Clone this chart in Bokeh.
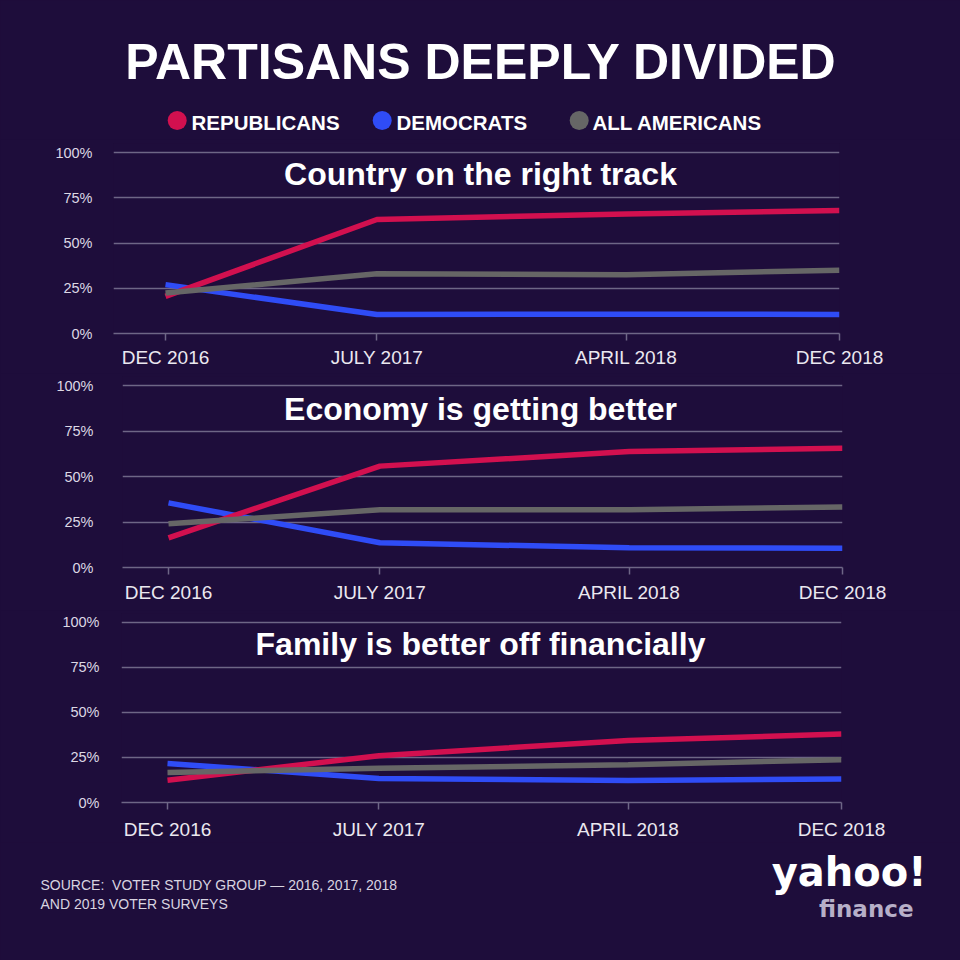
import pandas as pd
from bokeh.plotting import figure
from bokeh.layouts import column
from bokeh.models import (Label, FixedTicker, Range1d, ColumnDataSource,
                          PrintfTickFormatter, CustomJSTickFormatter)
from bokeh.embed import file_html
from bokeh.resources import INLINE

# ---------------- data ----------------
survey_labels = ["DEC 2016", "JULY 2017", "APRIL 2018", "DEC 2018"]
survey_dates = ["2016-12-01", "2017-07-18", "2018-04-14", "2018-12-01"]

series_names = ["REPUBLICANS", "DEMOCRATS", "ALL AMERICANS"]

panel_titles = ["Country on the right track",
                "Economy is getting better",
                "Family is better off financially"]

right_track_rep = [20.5, 63.0, 66.0, 68.0]
right_track_dem = [27.0, 10.5, 10.7, 10.5]
right_track_all = [22.4, 33.0, 32.5, 35.0]

economy_rep = [16.3, 55.7, 63.7, 65.5]
economy_dem = [35.5, 13.6, 10.8, 10.6]
economy_all = [24.0, 31.7, 31.7, 33.3]

family_rep = [12.3, 26.0, 34.4, 38.0]
family_dem = [21.7, 13.3, 12.2, 13.1]
family_all = [16.7, 19.0, 21.0, 23.8]

y_ticks = [0, 25, 50, 75, 100]

source_lines = ["SOURCE:\u00a0\u00a0VOTER STUDY GROUP \u2014 2016, 2017, 2018",
                "AND 2019 VOTER SURVEYS"]

# ---------------- style ----------------
BG = "#1e0d3b"
RED = "#d2104f"
BLUE = "#2f4cf6"
GRAY = "#666666"
GRID = "#6e6686"
TXT = "#ebe8f0"
W = 960
BASE = 0.38  # baseline correction factor (fraction of font size)

x_ms = [float(v) for v in (pd.to_datetime(survey_dates).astype("int64") // 10**6)]

# (fig_top_border, frame_h, bottom_border, frame_left, frame_right,
#  first_tick_x, px_per_pct, y_label_standoff, x_label_standoff, title_baseline_above_zero)
panel_cfg = [
    (4, 190, 40, 113, 839, 165, 1.81, 21, 6, 147),
    (3, 191, 43, 122, 842, 168, 1.82, 29, 7, 146),
    (3, 190, 39, 121, 841, 167, 1.81, 22, 9, 146),
]

panel_data = [
    (right_track_rep, right_track_dem, right_track_all),
    (economy_rep, economy_dem, economy_all),
    (family_rep, family_dem, family_all),
]


def base_fig(height, **kw):
    return figure(width=W, height=height, output_backend="svg",
                  toolbar_location=None, frame_align=False,
                  background_fill_color=BG, border_fill_color=BG,
                  outline_line_color=None,
                  styles={"background-color": BG}, **kw)


def make_panel(title, vals, cfg):
    top, fh, bottom, lx, rx, t0x, ppp, ystand, xstand, tb = cfg
    span_px = rx - t0x
    span = x_ms[-1] - x_ms[0]
    x_start = x_ms[0] - (t0x - lx) / span_px * span
    p = base_fig(top + fh + bottom,
                 x_range=Range1d(x_start, x_ms[-1]),
                 y_range=Range1d(0, fh / ppp),
                 min_border_left=lx, min_border_right=W - rx,
                 min_border_top=top, min_border_bottom=bottom)
    rep, dem, allv = vals
    src = ColumnDataSource(dict(x=x_ms, rep=rep, dem=dem, allv=allv))
    p.line("x", "dem", source=src, line_color=BLUE, line_width=5.5)
    p.line("x", "rep", source=src, line_color=RED, line_width=5.5)
    p.line("x", "allv", source=src, line_color=GRAY, line_width=5.5)

    p.xgrid.visible = False
    p.ygrid.ticker = FixedTicker(ticks=y_ticks)
    p.ygrid.grid_line_color = GRID
    p.ygrid.grid_line_width = 1.5

    ya = p.yaxis[0]
    ya.ticker = FixedTicker(ticks=y_ticks)
    ya.formatter = PrintfTickFormatter(format="%d%%")
    ya.axis_line_color = None
    ya.major_tick_line_color = None
    ya.minor_tick_line_color = None
    ya.major_tick_out = 0
    ya.major_tick_in = 0
    ya.major_label_standoff = ystand
    ya.major_label_text_font = "Liberation Sans"
    ya.major_label_text_font_size = "14.5px"
    ya.major_label_text_color = "#dcd8e4"

    xa = p.xaxis[0]
    xa.ticker = FixedTicker(ticks=x_ms)
    xa.formatter = CustomJSTickFormatter(
        args=dict(tvals=x_ms, tlabels=survey_labels),
        code="""
        let best = -1, bd = Infinity;
        for (let i = 0; i < tvals.length; i++) {
          const d = Math.abs(tvals[i] - tick);
          if (d < bd) { bd = d; best = i; }
        }
        return bd < 1e6 ? tlabels[best] : '';
        """)
    xa.axis_line_color = GRID
    xa.axis_line_width = 1.5
    xa.major_tick_line_color = GRID
    xa.major_tick_line_width = 1.5
    xa.minor_tick_line_color = None
    xa.major_tick_out = 7
    xa.major_tick_in = 0
    xa.major_label_standoff = xstand
    xa.major_label_text_font = "Liberation Sans"
    xa.major_label_text_font_size = "19px"
    xa.major_label_text_color = TXT

    p.add_layout(Label(x=480 - lx, y=tb + BASE * 32, x_units="screen",
                       y_units="screen", text=title, text_align="center",
                       text_baseline="alphabetic",
                       text_font="Liberation Sans", text_font_style="bold",
                       text_font_size="32px", text_color="white"))
    return p


# ---------------- header ----------------
HH = 139
header = base_fig(HH, x_range=Range1d(0, W), y_range=Range1d(0, HH), min_border=0,
                  x_axis_location=None, y_axis_location=None)
header.grid.visible = False
header.add_layout(Label(x=480.5, y=(HH - 80) + BASE * 50,
                        text="PARTISANS DEEPLY DIVIDED",
                        text_align="center", text_baseline="alphabetic",
                        text_font="Liberation Sans", text_font_style="bold",
                        text_font_size="50px", text_color="white"))
legend_dot_x = [176.7, 381.7, 578.7]
legend_txt_x = [191, 396, 592]
header.scatter(x=legend_dot_x, y=[HH - 120] * 3, size=19, marker="circle",
               color=[RED, BLUE, GRAY], line_color=None)
for name, lx in zip(series_names, legend_txt_x):
    header.add_layout(Label(x=lx, y=(HH - 129.3) + BASE * 20.5, text=name,
                            text_align="left", text_baseline="alphabetic",
                            text_font="Liberation Sans", text_font_style="bold",
                            text_font_size="20.5px", text_color="white"))

# ---------------- panels ----------------
panels = [make_panel(t, d, c) for t, d, c in zip(panel_titles, panel_data, panel_cfg)]

# ---------------- footer ----------------
used = HH + sum(c[0] + c[1] + c[2] for c in panel_cfg)
FH = 960 - used
footer = base_fig(FH, x_range=Range1d(0, W), y_range=Range1d(0, FH), min_border=0,
                  x_axis_location=None, y_axis_location=None)
footer.grid.visible = False
src_baselines = [890, 909]
for line, by in zip(source_lines, src_baselines):
    footer.add_layout(Label(x=40, y=(960 - by) + BASE * 14, text=line,
                            text_align="left", text_baseline="alphabetic",
                            text_font="Liberation Sans",
                            text_font_size="14px", text_color="#d8d4e0"))
footer.add_layout(Label(x=926, y=(960 - 887) + BASE * 40, text="yahoo!",
                        text_align="right", text_baseline="alphabetic",
                        text_font="DejaVu Sans", text_font_style="bold",
                        text_font_size="40px", text_color="white"))
footer.add_layout(Label(x=913, y=(960 - 917) + BASE * 23, text="finance",
                        text_align="right", text_baseline="alphabetic",
                        text_font="DejaVu Sans", text_font_style="bold",
                        text_font_size="23px", text_color="#b7afc8"))

layout = column(header, *panels, footer, spacing=0,
                styles={"background-color": BG})

open("out.html", "w").write(file_html(layout, INLINE))
